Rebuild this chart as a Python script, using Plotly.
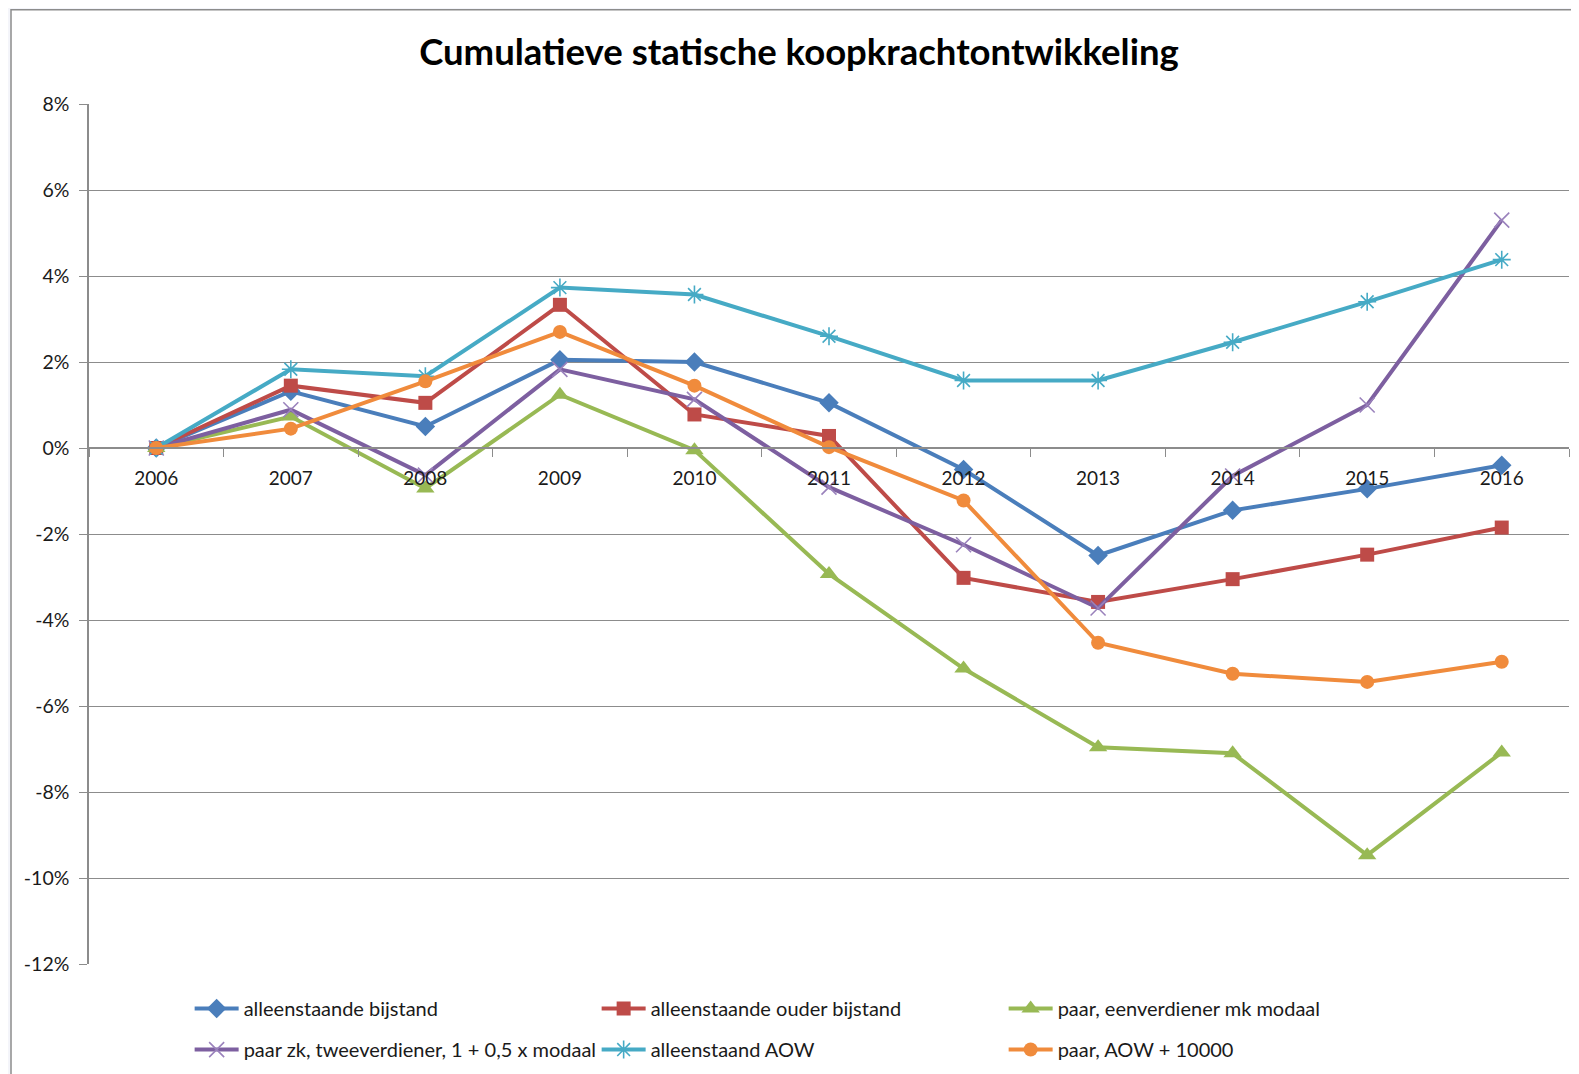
import plotly.graph_objects as go

years = ["2006", "2007", "2008", "2009", "2010", "2011", "2012", "2013", "2014", "2015", "2016"]

bijstand = [0.0, 1.32, 0.50, 2.05, 2.00, 1.05, -0.50, -2.50, -1.45, -0.95, -0.40]
ouder_bijstand = [0.0, 1.45, 1.05, 3.33, 0.78, 0.28, -3.02, -3.58, -3.05, -2.48, -1.85]
eenverdiener = [0.0, 0.73, -0.94, 1.24, -0.05, -2.93, -5.13, -6.96, -7.10, -9.47, -7.08]
tweeverdiener = [0.0, 0.89, -0.63, 1.83, 1.13, -0.91, -2.25, -3.72, -0.65, 1.00, 5.30]
aow = [0.0, 1.83, 1.67, 3.73, 3.57, 2.60, 1.57, 1.57, 2.46, 3.40, 4.38]
aow_10000 = [0.0, 0.45, 1.55, 2.70, 1.45, 0.02, -1.22, -4.53, -5.25, -5.44, -4.97]

y_tickvals = [8, 6, 4, 2, 0, -2, -4, -6, -8, -10, -12]
y_ticktext = ["8%", "6%", "4%", "2%", "0%", "-2%", "-4%", "-6%", "-8%", "-10%", "-12%"]

names = [
    "alleenstaande bijstand",
    "alleenstaande ouder bijstand",
    "paar, eenverdiener mk modaal",
    "paar zk, tweeverdiener, 1 + 0,5 x modaal",
    "alleenstaand AOW",
    "paar, AOW + 10000",
]
series = [bijstand, ouder_bijstand, eenverdiener, tweeverdiener, aow, aow_10000]
colors = ["#4A7EBB", "#BE4B48", "#98B954", "#7D5FA0", "#46AAC5", "#F08B3C"]
marker_colors = ["#4A7EBB", "#BE4B48", "#98B954", "#9A82BC", "#46AAC5", "#F08B3C"]
symbols = ["diamond", "square", "triangle-up", "x-thin-open", "asterisk-open", "circle"]
sizes = [15, 14, 16, 15, 15, 14]
legends = ["legend", "legend", "legend", "legend2", "legend2", "legend2"]

FONT = "Lato"

fig = go.Figure()
for name, vals, col, mcol, sym, sz, lg in zip(names, series, colors, marker_colors, symbols, sizes, legends):
    open_sym = sym.endswith("open")
    fig.add_trace(go.Scatter(
        x=years, y=vals, name=name, mode="lines+markers",
        line=dict(color=col, width=4),
        marker=dict(symbol=sym, size=sz, color=mcol,
                    line=dict(color=mcol, width=1.6 if open_sym else 0)),
        legend=lg,
    ))

# chart frame (white area with grey border on light page background)
fig.add_shape(type="rect", xref="paper", yref="paper",
              x0=-0.0527, x1=1.2, y0=-0.3, y1=1.1097,
              fillcolor="white", line=dict(color="#8c8c8c", width=1.5), layer="below")

leg_common = dict(
    orientation="h", xanchor="left", yanchor="middle",
    font=dict(family=FONT, size=20, color="#1a1a1a"),
    entrywidth=348, entrywidthmode="pixels",
    bgcolor="rgba(0,0,0,0)", itemwidth=44,
)

fig.update_layout(
    width=1571, height=1066,
    paper_bgcolor="#f4f5fa", plot_bgcolor="white",
    margin=dict(l=81, r=10, t=96, b=110, autoexpand=False),
    title=dict(text="<b>Cumulatieve statische koopkrachtontwikkeling</b>",
               x=0.5035, xanchor="center", y=0.9583, yanchor="middle",
               font=dict(family=FONT, size=36.5, color="#000000")),
    font=dict(family=FONT, color="#1a1a1a"),
    legend=dict(x=0.068, y=-0.0518, **leg_common),
    legend2=dict(x=0.068, y=-0.0995, **leg_common),
    xaxis=dict(
        type="category", anchor="free", position=0.6,
        showgrid=False, showline=True, linecolor="#8c8c8c", linewidth=1.5,
        ticks="outside", tickson="boundaries", ticklen=8, tickcolor="#8c8c8c",
        tickfont=dict(family=FONT, size=19, color="#1a1a1a"),
        ticklabelstandoff=13,
        range=[-0.5, 10.5],
    ),
    yaxis=dict(
        range=[-12, 8], tickvals=y_tickvals, ticktext=y_ticktext,
        showgrid=True, gridcolor="#8c8c8c", gridwidth=1.2,
        zeroline=False, showline=True, linecolor="#8c8c8c", linewidth=1.5,
        ticks="outside", ticklen=8, tickcolor="#8c8c8c",
        tickfont=dict(family=FONT, size=19.5, color="#1a1a1a"),
        ticklabelstandoff=6,
    ),
)

fig.write_html("out.html")
